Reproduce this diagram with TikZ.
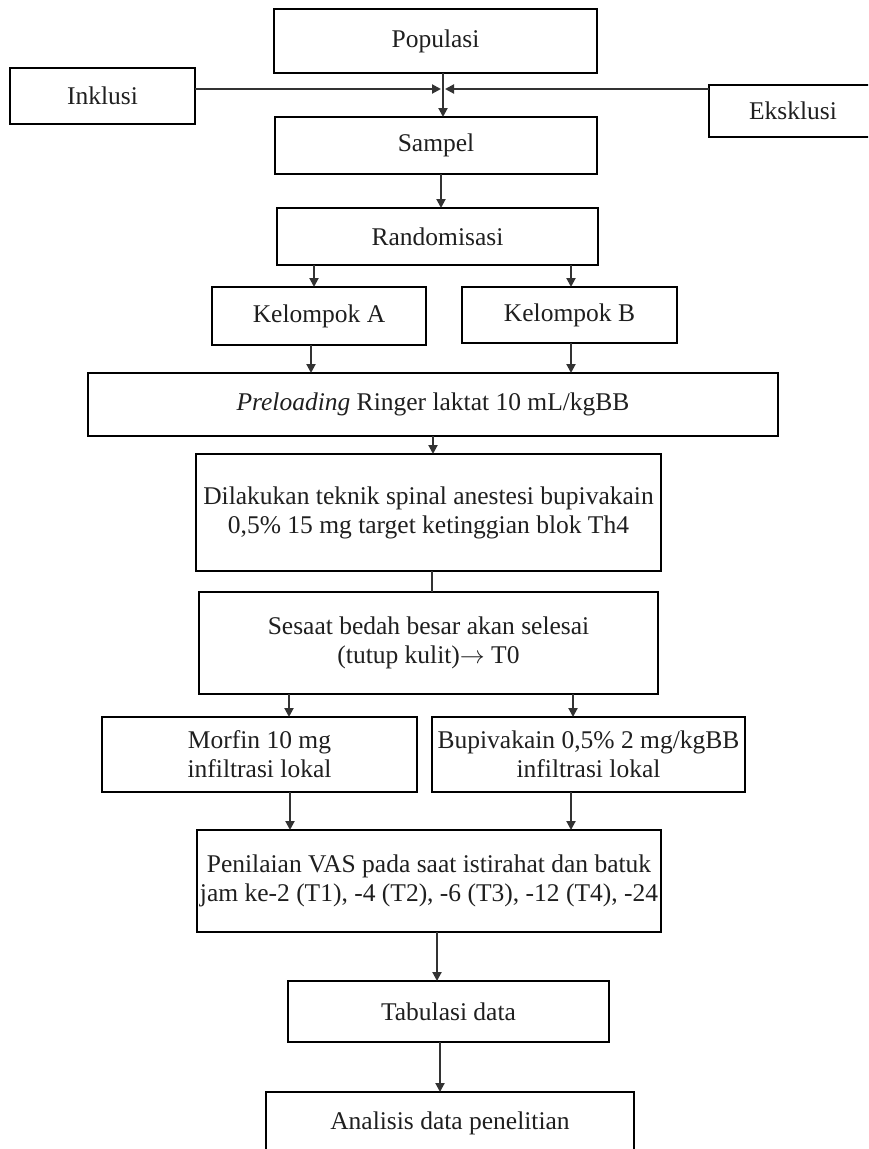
\documentclass[tikz,border=0pt]{standalone}
\usepackage{fontspec}
\setmainfont{Liberation Serif}
\usetikzlibrary{arrows.meta}
\begin{document}
\begin{tikzpicture}[x=1pt,y=-1pt,
  box/.style={draw=black, line width=2.8pt, inner sep=0pt, outer sep=0pt, align=center,
    text=black!88, font=\fontsize{25.5}{29}\selectfont},
  arr/.style={draw=black!80, line width=2pt, -{Triangle[length=9pt,width=9pt]}},
  ln/.style={draw=black!80, line width=2pt}]
\useasboundingbox (0,0) rectangle (868,1149);
\clip (0,0) rectangle (868,1149);
\node[box, minimum width=323pt, minimum height=64pt] (pop) at (435.5,41) {Populasi};
\node[box, minimum width=185pt, minimum height=56pt] (ink) at (102.5,96) {Inklusi};
\node[box, minimum width=168pt, minimum height=52pt] (eks) at (793,111) {Eksklusi};
\node[box, minimum width=322pt, minimum height=57pt] (sam) at (436,145.5) {Sampel};
\node[box, minimum width=321pt, minimum height=57pt] (ran) at (437.5,236.5) {Randomisasi};
\node[box, minimum width=214pt, minimum height=58pt] (ka) at (319,316) {Kelompok A};
\node[box, minimum width=215pt, minimum height=56pt] (kb) at (569.5,315) {Kelompok B};
\node[box, minimum width=690pt, minimum height=63pt] (pre) at (433,404.5) {\textit{Preloading} Ringer laktat 10 mL/kgBB};
\node[box, minimum width=465pt, minimum height=117pt] (dil) at (428.5,512.5) {Dilakukan teknik spinal anestesi bupivakain\\0,5\% 15 mg target ketinggian blok Th4};
\node[box, minimum width=459pt, minimum height=102pt] (ses) at (428.5,643) {Sesaat bedah besar akan selesai\\(tutup kulit)$\rightarrow$ T0};
\node[box, minimum width=315pt, minimum height=75pt] (mor) at (259.5,754.5) {Morfin 10 mg\\infiltrasi lokal};
\node[box, minimum width=313pt, minimum height=75pt] (bup) at (588.5,754.5) {Bupivakain 0,5\% 2 mg/kgBB\\infiltrasi lokal};
\node[box, minimum width=464pt, minimum height=102pt] (pen) at (429,881) {Penilaian VAS pada saat istirahat dan batuk\\jam ke-2 (T1), -4 (T2), -6 (T3), -12 (T4), -24};
\node[box, minimum width=321pt, minimum height=61pt] (tab) at (448.5,1011.5) {Tabulasi data};
\node[box, minimum width=368pt, minimum height=62pt] (ana) at (450,1123) {Analisis data penelitian};
% junction of Inklusi / Eksklusi on the Populasi -> Sampel line
\coordinate (j) at (443,89);
\draw[arr] ([xshift=7.5pt]pop.south) -- ([xshift=7.5pt]pop.south |- sam.north);
\draw[arr] (ink.east |- j) -- ([xshift=-2pt]j);
\draw[arr] (eks.west |- j) -- ([xshift=2pt]j);
\draw[arr] ([xshift=5pt]sam.south) -- ([xshift=5pt]sam.south |- ran.north);
\draw[arr] ([xshift=-123.5pt]ran.south) -- ([xshift=-123.5pt]ran.south |- ka.north);
\draw[arr] ([xshift=133.5pt]ran.south) -- ([xshift=133.5pt]ran.south |- kb.north);
\draw[arr] ([xshift=-8pt]ka.south) -- ([xshift=-8pt]ka.south |- pre.north);
\draw[arr] ([xshift=1.5pt]kb.south) -- ([xshift=1.5pt]kb.south |- pre.north);
\draw[arr] (pre.south) -- (pre.south |- dil.north);
\draw[ln] ([xshift=3.5pt]dil.south) -- ([xshift=3.5pt]dil.south |- ses.north);
\draw[arr] ([xshift=-139.5pt]ses.south) -- ([xshift=-139.5pt]ses.south |- mor.north);
\draw[arr] ([xshift=144.5pt]ses.south) -- ([xshift=144.5pt]ses.south |- bup.north);
\draw[arr] ([xshift=30.5pt]mor.south) -- ([xshift=30.5pt]mor.south |- pen.north);
\draw[arr] ([xshift=-17.5pt]bup.south) -- ([xshift=-17.5pt]bup.south |- pen.north);
\draw[arr] ([xshift=8pt]pen.south) -- ([xshift=8pt]pen.south |- tab.north);
\draw[arr] ([xshift=-8.5pt]tab.south) -- ([xshift=-8.5pt]tab.south |- ana.north);
\end{tikzpicture}
\end{document}
